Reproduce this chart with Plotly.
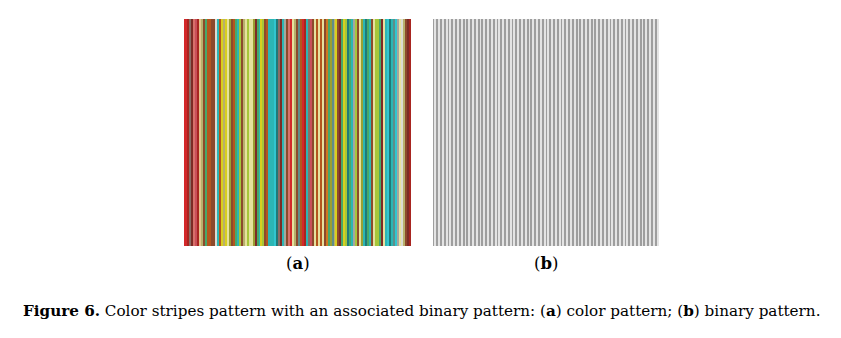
import plotly.graph_objects as go

# ---- data ----
R, DR, M, BR, OB, O = "#d3282a", "#a82520", "#7c2b25", "#8c4a2c", "#b4561e", "#cf7a20"
S, PK, P, Y, PY, K = "#d8706a", "#c8505a", "#e6c48a", "#d8cf1e", "#e6e29e", "#b8b06c"
OL, YG, G, T, DT, C = "#9aa032", "#a6c63a", "#48a86a", "#2cb6b4", "#1f7a78", "#32c6cf"
GR, LG, GB, TG = "#a6a69e", "#dcdcd2", "#8a6e66", "#5e8e8a"

color_stripes = [
    R, R, DR, GB, M, S, PK, DR, P, K, BR, G, OB, OB, BR, BR, LG, T, OB, Y,
    K, Y, PY, OL, BR, OB, G, T, YG, BR, K, PY, YG, PY,
    PY, OL, M, G, T, Y, YG, BR, OB, T, T, T, C, DT, GB, M, T, GR, BR, S,
    R, PY, K, BR, TG, OB, R, DR, T, GB, PK, BR, PY, OB, PY,
    OB, PY, BR, O, G, OL, TG, K, Y, BR, M, G, Y, YG, DT, G, T, GR, YG, BR,
    PY, OL, T, DT, G, T, BR, PY, YG,
    YG, G, M, PY, T, C, DT, T, TG, C, GR, PY, LG, K, BR, M, DR,
]
binary_stripes = [1, 0] * 60
panel_labels = ["(<b>a</b>)", "(<b>b</b>)"]
caption = ("<b>Figure 6.</b> Color stripes pattern with an associated binary pattern: "
           "(<b>a</b>) color pattern; (<b>b</b>) binary pattern.")

W, H = 841, 338
fig = go.Figure()
fig.add_trace(go.Bar(
    x=list(range(len(color_stripes))), y=[1] * len(color_stripes),
    marker=dict(color=color_stripes, line=dict(width=0)),
    width=1.0, xaxis="x", yaxis="y", hoverinfo="skip", showlegend=False))
bin_colors = ["#9e9e9e" if v else "#e4e4e4" for v in binary_stripes]
fig.add_trace(go.Bar(
    x=list(range(len(binary_stripes))), y=[1] * len(binary_stripes),
    marker=dict(color=bin_colors, line=dict(width=0)),
    width=1.0, xaxis="x2", yaxis="y2", hoverinfo="skip", showlegend=False))

def px_x(p): return p / W
def px_y(p): return 1 - p / H

ax = dict(showgrid=False, zeroline=False, showticklabels=False, ticks="", showline=False)
fig.update_layout(
    width=W, height=H, margin=dict(l=0, r=0, t=0, b=0),
    paper_bgcolor="white", plot_bgcolor="white", bargap=0,
    xaxis=dict(domain=[px_x(184), px_x(411)], range=[-0.5, len(color_stripes) - 0.5], **ax),
    yaxis=dict(domain=[px_y(246), px_y(19)], range=[0, 1], **ax),
    xaxis2=dict(domain=[px_x(433), px_x(659)], range=[-0.5, len(binary_stripes) - 0.5], anchor="y2", **ax),
    yaxis2=dict(domain=[px_y(246), px_y(19)], range=[0, 1], anchor="x2", **ax),
    font=dict(family="DejaVu Serif", color="black"),
)
for lbl, cx in zip(panel_labels, [297.5, 546]):
    fig.add_annotation(text=lbl, x=px_x(cx), y=px_y(263), xref="paper", yref="paper",
                       showarrow=False, xanchor="center", yanchor="middle",
                       font=dict(size=16.5, family="DejaVu Serif"))
fig.add_annotation(text=caption, x=px_x(421), y=px_y(311), xref="paper", yref="paper",
                   showarrow=False, xanchor="center", yanchor="middle",
                   font=dict(size=15.2, family="DejaVu Serif"))
fig.write_html("out.html")
